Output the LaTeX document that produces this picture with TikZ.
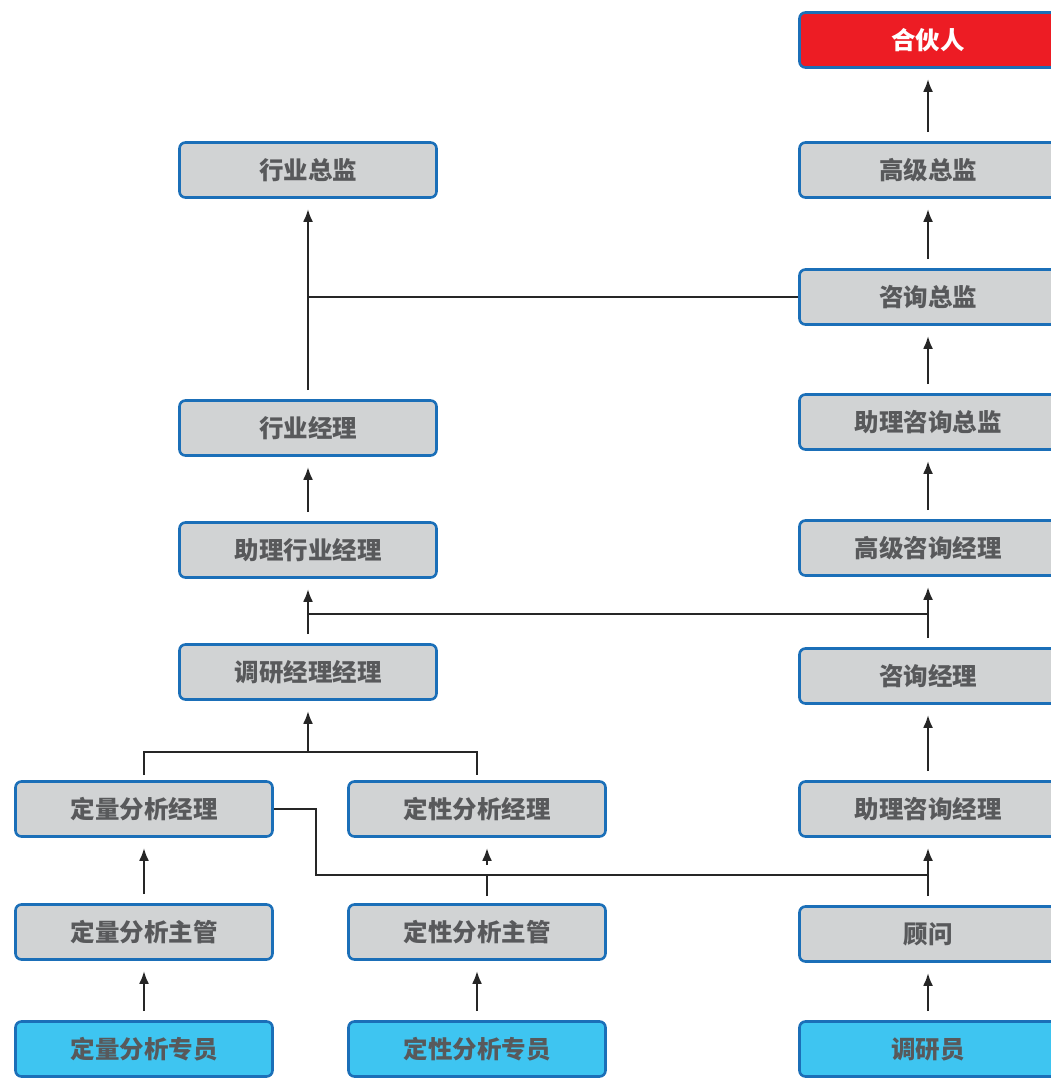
\documentclass[tikz,border=0pt]{standalone}
\usepackage{fontspec}
\newfontfamily\cjk{Noto Sans CJK SC}
\usetikzlibrary{arrows.meta}
\definecolor{bdblue}{HTML}{1B6FB8}
\definecolor{boxgray}{HTML}{D1D3D4}
\definecolor{txtgray}{HTML}{58595B}
\definecolor{partnerred}{HTML}{ED1C24}
\definecolor{entrycyan}{HTML}{3EC5F1}
\tikzset{
  box/.style={draw=bdblue, line width=2.6pt, rounded corners=6pt, fill=boxgray,
    minimum width=257pt, minimum height=55pt, inner sep=0pt, text=txtgray,
    font=\cjk\bfseries\fontsize{24.5}{28}\selectfont},
  topbox/.style={box, fill=partnerred, text=white},
  entrybox/.style={box, fill=entrycyan},
  link/.style={line width=2.6pt, draw=black!85},
  arr/.style={link, -{Latex[length=13pt,width=10pt]}, shorten >=10pt, shorten <=9pt}
}
\begin{document}
\begin{tikzpicture}[x=1pt, y=-1pt]
  \clip (0,0) rectangle (1051,1078);
  % right column
  \node[topbox] (partner) at (928,40) {合伙人};
  \node[box] (sdir) at (928,170) {高级总监};
  \node[box] (cdir) at (928,297) {咨询总监};
  \node[box] (acdir) at (928,422) {助理咨询总监};
  \node[box] (scm) at (928,548) {高级咨询经理};
  \node[box] (cm) at (928,676) {咨询经理};
  \node[box] (acm) at (928,809) {助理咨询经理};
  \node[box] (cons) at (928,934) {顾问};
  \node[entrybox] (res) at (928,1049) {调研员};
  % left column
  \node[box] (idir) at (308,170) {行业总监};
  \node[box] (imgr) at (308,428) {行业经理};
  \node[box] (aimgr) at (308,550) {助理行业经理};
  \node[box] (rmgr) at (308,672) {调研经理经理};
  \node[box] (qnmgr) at (144,809) {定量分析经理};
  \node[box] (qlmgr) at (477,809) {定性分析经理};
  \node[box] (qnsup) at (144,932) {定量分析主管};
  \node[box] (qlsup) at (477,932) {定性分析主管};
  \node[entrybox] (qnspec) at (144,1049) {定量分析专员};
  \node[entrybox] (qlspec) at (477,1049) {定性分析专员};

  \coordinate (j1) at (308,614);
  \coordinate (j2) at (928,614);
  \coordinate (j3) at (308,752);
  \coordinate (j4) at (316,875);
  \coordinate (j5) at (928,875);

  % consulting track
  \draw[arr] (sdir) -- (partner);
  \draw[arr] (cdir) -- (sdir);
  \draw[arr] (acdir) -- (cdir);
  \draw[arr] (scm) -- (acdir);
  \draw[arr] (cm) -- (scm);
  \draw[arr] (acm) -- (cm);
  \draw[arr] (cons) -- (acm);
  \draw[arr] (res) -- (cons);
  % industry track
  \draw[arr] (imgr) -- (idir);
  \draw[link] (cdir.west) -- (imgr.north |- cdir.west);
  \draw[arr] (aimgr) -- (imgr);
  \draw[arr] (rmgr) -- (aimgr);
  \draw[link] (j1) -- (j2);
  % analysts
  \draw[link] ([yshift=5pt]qnmgr.north) |- (j3) -| ([yshift=5pt]qlmgr.north);
  \draw[arr, shorten <=0pt] (j3) -- (rmgr);
  \draw[arr] (qnsup) -- (qnmgr);
  \draw[arr] (qnspec) -- (qnsup);
  \draw[arr] (qlspec) -- (qlsup);
  \draw[link] ([xshift=10pt,yshift=7pt]qlsup.north) -- ([xshift=10pt]qlsup.north |- j4);
  \draw[arr, shorten <=0pt] ([xshift=10pt]qlsup.north |- 0,865) -- ([xshift=10pt]qlmgr.south);
  \draw[link] (qnmgr.east) -| (j4) -- (j5);
\end{tikzpicture}
\end{document}
